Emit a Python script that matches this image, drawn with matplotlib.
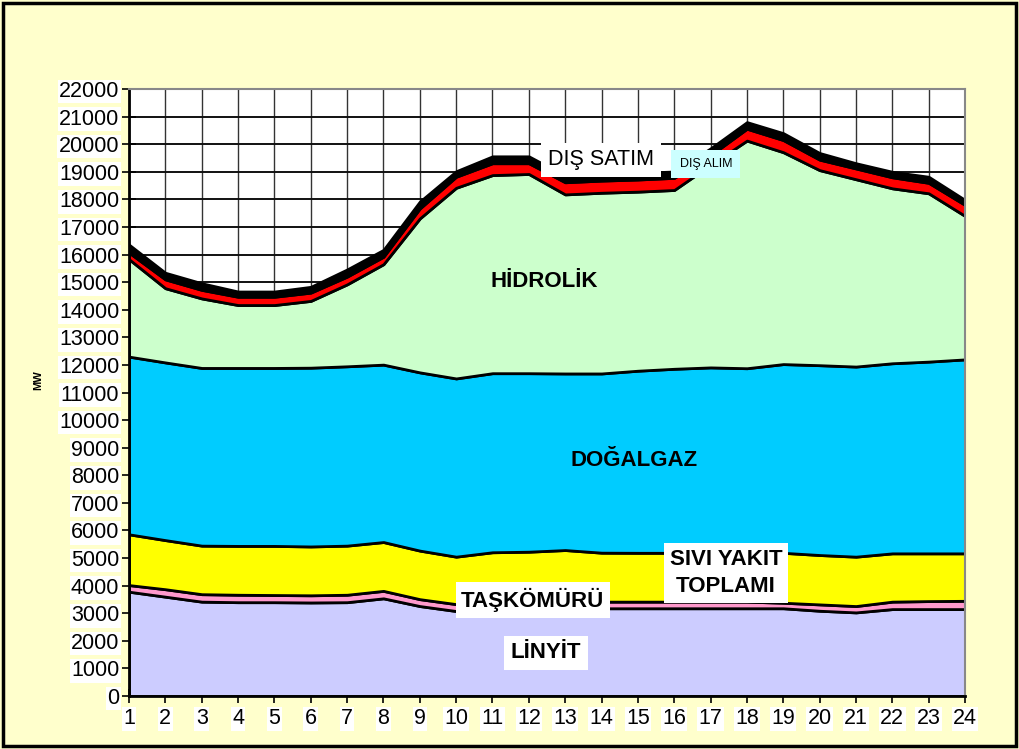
import matplotlib
matplotlib.use('Agg')
import matplotlib.pyplot as plt
from matplotlib.patches import Rectangle
import numpy as np

plt.rcParams['font.family'] = ['Liberation Sans', 'DejaVu Sans']

hours = list(range(1, 25))

# MW per source, bottom to top
linyit = [3780, 3600, 3420, 3400, 3400, 3390, 3400, 3540, 3260, 3080, 3150, 3170,
          3180, 3180, 3180, 3180, 3180, 3180, 3180, 3090, 3030, 3150, 3150, 3150]
taskomuru = [240, 270, 270, 270, 260, 260, 270, 270, 250, 250, 250, 240,
             240, 240, 240, 240, 240, 240, 200, 230, 230, 270, 290, 300]
sivi_yakit = [1840, 1780, 1760, 1770, 1780, 1770, 1780, 1770, 1760, 1720, 1810, 1820,
              1870, 1775, 1770, 1770, 1770, 1770, 1810, 1790, 1790, 1750, 1730, 1720]
dogalgaz = [6440, 6440, 6440, 6450, 6450, 6480, 6500, 6430, 6460, 6460, 6490, 6470,
            6400, 6495, 6600, 6670, 6720, 6690, 6840, 6880, 6890, 6890, 6950, 7030]
hidrolik = [3530, 2690, 2520, 2280, 2280, 2420, 2970, 3640, 5580, 6910, 7180, 7220,
            6490, 6550, 6490, 6480, 7340, 8250, 7680, 7070, 6790, 6340, 6100, 5200]
dis_alim = [240, 320, 310, 300, 300, 300, 280, 270, 360, 400, 430, 390,
            440, 440, 440, 440, 350, 430, 440, 380, 390, 400, 380, 400]
dis_satim = [290, 240, 240, 190, 190, 210, 260, 250, 250, 200, 250, 250,
             240, 240, 240, 230, 250, 240, 250, 240, 190, 200, 220, 180]

layers = [linyit, taskomuru, sivi_yakit, dogalgaz, hidrolik, dis_alim, dis_satim]
colors = ['#CCCCFF', '#FF99CC', '#FFFF00', '#00CCFF', '#CCFFCC', '#FF0000', '#000000']

fig = plt.figure(figsize=(10.19, 7.49), dpi=100, facecolor='#FFFFCC')
ax = fig.add_axes([129 / 1019, 1 - 696 / 749, (965 - 129) / 1019, (696 - 89) / 749])
ax.set_facecolor('white')

ax.stackplot(hours, *layers, colors=colors, edgecolor='black', linewidth=2.0)

ax.set_xlim(1, 24)
ax.set_ylim(0, 22000)
ax.set_xticks(hours)
ax.set_yticks(np.arange(0, 22001, 1000))
ax.set_axisbelow(True)
ax.xaxis.grid(True, color='#333333', linewidth=1.0)
ax.yaxis.grid(True, color='#111111', linewidth=1.4)

for s in ['top', 'right']:
    ax.spines[s].set_color('#888888')
    ax.spines[s].set_linewidth(1.5)
for s in ['left', 'bottom']:
    ax.spines[s].set_color('black')
    ax.spines[s].set_linewidth(2)

ax.tick_params(axis='both', direction='inout', length=10, width=1.2, labelsize=15.5)
ax.tick_params(axis='y', pad=2)
ax.tick_params(axis='x', pad=4)
for lab in ax.get_xticklabels() + ax.get_yticklabels():
    lab.set_bbox(dict(facecolor='white', edgecolor='none', pad=1))

fig.text(38 / 1019, 1 - 380 / 749, 'MW', rotation=90, fontsize=8, fontweight='bold',
         ha='center', va='center')

box = dict(facecolor='white', edgecolor='none', pad=4)
ax.text(12.42, 15040, 'HİDROLİK', fontsize=16, fontweight='bold', ha='center', va='center')
ax.text(14.89, 8520, 'DOĞALGAZ', fontsize=16, fontweight='bold', ha='center', va='center')
ax.text(17.42, 4460, 'SIVI YAKIT\nTOPLAMI', fontsize=16, fontweight='bold', ha='center',
        va='center', linespacing=1.4, bbox=box)
ax.text(12.11, 3480, 'TAŞKÖMÜRÜ', fontsize=16, fontweight='bold', ha='center', va='center',
        bbox=box)
ax.text(12.47, 1560, 'LİNYİT', fontsize=16, fontweight='bold', ha='center', va='center',
        bbox=dict(facecolor='white', edgecolor='none', pad=5))
ax.text(13.98, 19430, 'DIŞ SATIM', fontsize=15.5, ha='center', va='center',
        bbox=dict(facecolor='white', edgecolor='none', pad=5))
ax.text(16.87, 19280, 'DIŞ ALIM', fontsize=9, ha='center', va='center',
        bbox=dict(facecolor='#CCFFFF', edgecolor='none', pad=6))

fig.patches.append(Rectangle((0.003, 0.004), 0.994, 0.992, transform=fig.transFigure,
                             fill=False, edgecolor='black', linewidth=2.5))

fig.savefig('out.png', dpi=100, facecolor=fig.get_facecolor())
